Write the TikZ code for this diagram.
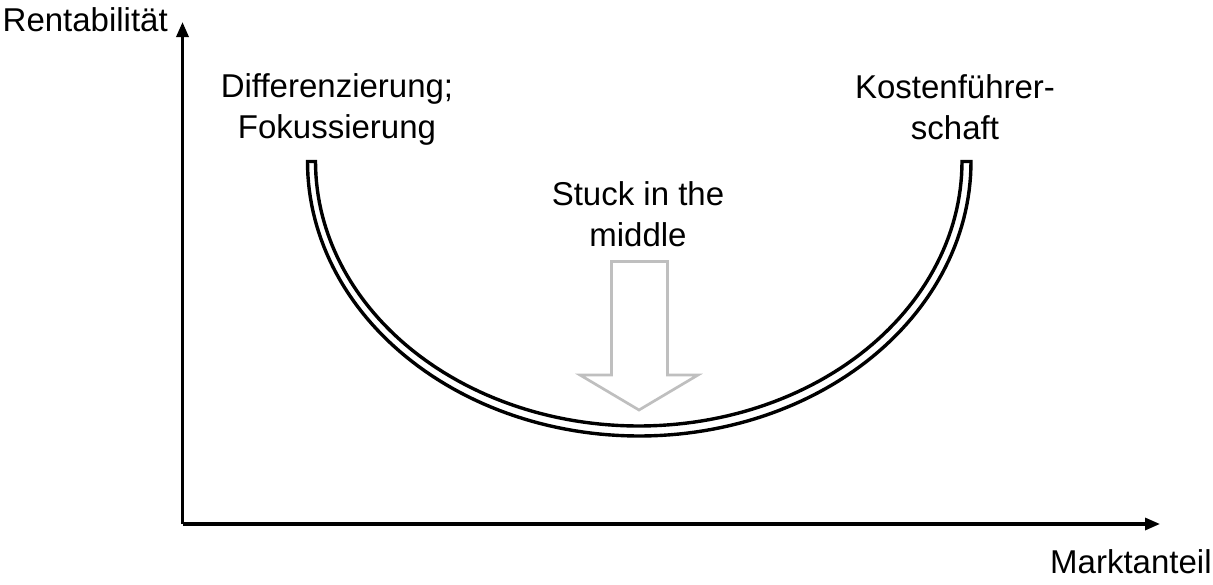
\documentclass[tikz,border=0pt]{standalone}
\usepackage{fontspec}
\setmainfont{Liberation Sans}
\usetikzlibrary{arrows.meta}
\begin{document}
\begin{tikzpicture}[x=1pt,y=-1pt,
  % axes and their captions
  axis/.style={line width=3.2pt, -{Triangle[length=15pt,width=12pt]}},
  lbl/.style={font=\fontsize{33}{41}\selectfont, inner sep=0pt, align=center},
  % the U: white band between two black lines, closed at both tops
  band/.style={line width=3.4pt, fill=white, line join=miter},
  % grey outline block arrow
  block/.style={draw=black!25, line width=2.7pt, fill=white, line join=miter},
  ]
  \useasboundingbox (0,0) rectangle (1213,584);
  % ---- axes ---------------------------------------------------------------
  \coordinate (O)    at (182.5,524);
  \coordinate (ytop) at (182.5,22);
  \coordinate (xend) at (1160,524);
  \draw[axis] (O) -- (ytop);
  \draw[axis] (O) -- (xend);
  \node[lbl, anchor=base west] (rent)  at (2.5,31.5)   {Rentabilität};
  \node[lbl, anchor=base west] (markt) at (1050,573)   {Marktanteil};
  % ---- U curve (outer arc down, inner arc back up) ------------------------
  \draw[band] plot[domain=180:360, samples=120] ({639.25+331.75*cos(\x)}, {161.5-274.5*sin(\x)})
    -- plot[domain=360:180, samples=120] ({638.75+323.25*cos(\x)}, {161.5-264.5*sin(\x)}) -- cycle;
  % ---- strategy labels ------------------------------------------------------
  \node[lbl] (diff)  at (337,109.5) {Differenzierung;\\Fokussierung};
  \node[lbl] (kost)  at (955,107)   {Kostenführer-\\schaft};
  \node[lbl] (stuck) at (638,214)   {Stuck in the\\middle};
  % ---- arrow into the bottom of the U --------------------------------------
  \draw[block] (611.5,261.5) -- (667.5,261.5) -- (667.5,375) -- (698,375)
    -- (639,410) -- (580,375) -- (611.5,375) -- cycle;
\end{tikzpicture}
\end{document}
